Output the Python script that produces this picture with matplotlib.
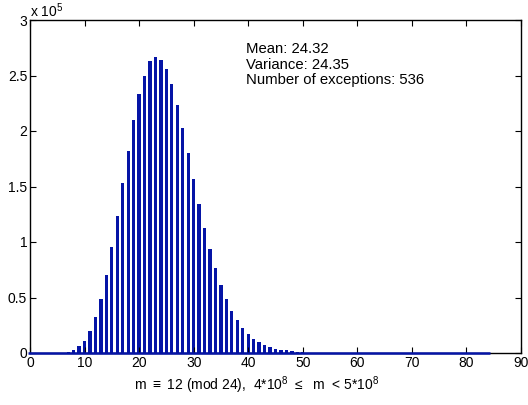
import matplotlib
matplotlib.use('Agg')
import matplotlib.pyplot as plt
import numpy as np
from matplotlib.ticker import FuncFormatter

plt.rcParams['font.family'] = ['Liberation Sans', 'DejaVu Sans']
plt.rcParams['mathtext.fontset'] = 'custom'
plt.rcParams['mathtext.rm'] = 'Liberation Sans'

# number of exceptions per m (values 0..84)
values = np.arange(0, 85)
lead = [0, 0, 0, 0, 0, 0]
body = [300, 1200, 2700, 6000, 10800, 19800, 32400, 48400, 70000, 95700,
        123700, 153000, 182000, 210000, 233000, 250000, 263000, 266700, 264000, 256000,
        242000, 223000, 203000, 180000, 156500, 134000, 113000, 94000, 76500, 61500,
        48600, 37800, 29700, 22500, 17100, 12900, 9900, 7200, 5400, 3800,
        3000, 2400, 1500, 1000, 500, 300, 150, 80, 40, 20]
tail = [0] * 29
counts = np.array(lead + body + tail)

stats_text = "Mean: 24.32\nVariance: 24.35\nNumber of exceptions: 536"
xlabel = r"m $\equiv$ 12 (mod 24),  4*10$^8$ $\leq$  m  < 5*10$^8$"
yticks = [0, 0.5e5, 1e5, 1.5e5, 2e5, 2.5e5, 3e5]
xticks = [0, 10, 20, 30, 40, 50, 60, 70, 80, 90]

bar_color = '#0514A6'
width = 0.6

fig = plt.figure(figsize=(5.28, 4.05), dpi=100)
ax = fig.add_axes([30/528, 1 - 353/405, 491/528, 333/405])

ax.bar(values, counts, width=width, color=bar_color, linewidth=0)
# zero-height bars drawn as a baseline, like matlab does
ax.plot([values[0] - width/2, values[-1] + width/2], [0, 0], color=bar_color,
        lw=1.8, zorder=3, clip_on=False, solid_capstyle='butt')

ax.set_xlim(0, 90)
ax.set_ylim(0, 3e5)
ax.set_xticks(xticks)
ax.set_yticks(yticks)
ax.yaxis.set_major_formatter(FuncFormatter(lambda v, p: '%g' % (v / 1e5)))
ax.tick_params(direction='in', top=True, right=True, length=4, width=0.8,
               labelsize=10, pad=2)
for s in ax.spines.values():
    s.set_linewidth(1.0)

ax.text(0, 1.0, r'x 10$^5$', transform=ax.transAxes, ha='left', va='bottom',
        fontsize=10)

ax.text(39.6, 2.8e5, stats_text, ha='left', va='top', fontsize=10.7,
        linespacing=1.12)

ax.set_xlabel(xlabel, fontsize=10)
ax.xaxis.set_label_coords((256.5 - 30) / 491, -(385 - 353) / 333)
ax.xaxis.label.set_verticalalignment('center')

fig.savefig('out.png', dpi=100)
